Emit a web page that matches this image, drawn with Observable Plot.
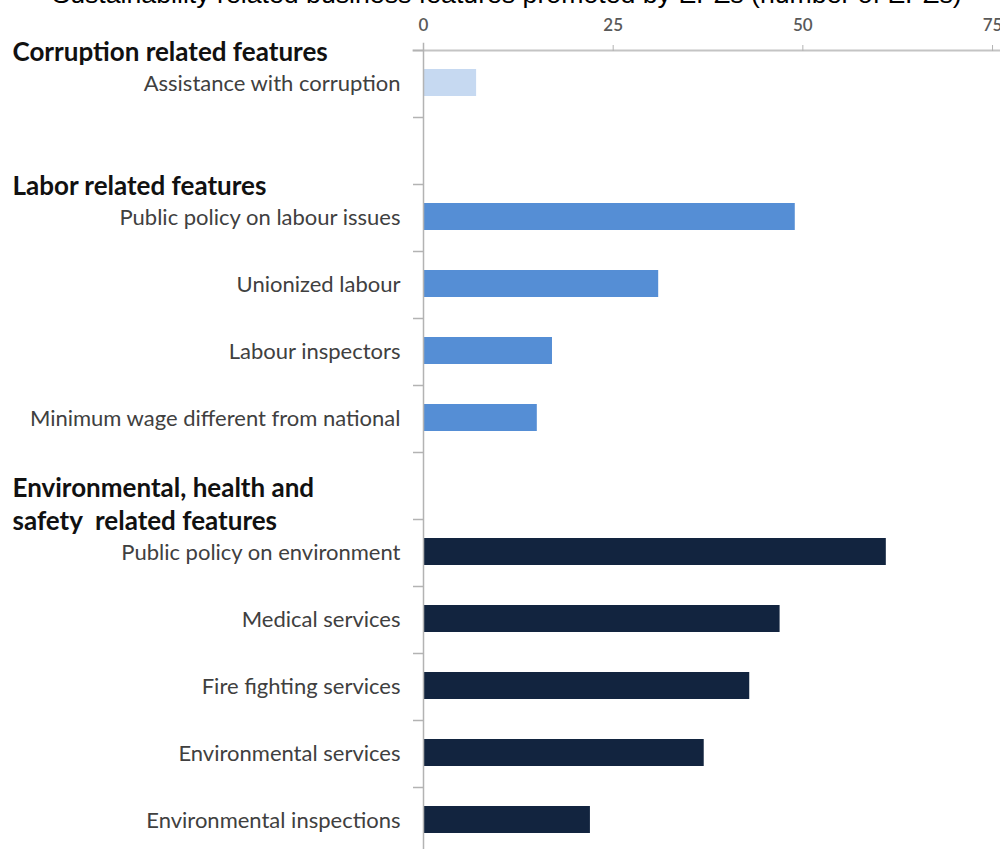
<!DOCTYPE html>
<html>
<head>
<meta charset="utf-8">
<script src="https://cdn.jsdelivr.net/npm/d3@7"></script>
<script src="https://cdn.jsdelivr.net/npm/@observablehq/plot@0.6"></script>
<style>
  html, body { margin: 0; padding: 0; background: #fff; overflow: hidden; }
  #wrap { position: relative; width: 1000px; height: 849px; overflow: hidden; }
  #title { position: absolute; left: 0; width: 1014px; top: -19px; text-align: center;
           font-family: "Liberation Sans", Arial, sans-serif; font-size: 26.7px; line-height: 27px; color: #000; white-space: nowrap; }
  #chart { position: absolute; left: 0; top: 0; }
</style>
</head>
<body>
<div id="wrap">
  <div id="chart"></div>
  <div id="title">Sustainability related business features promoted by EPZs (number of EPZs)</div>
</div>
<script>
// ---- data ----
const groupNames = ["Corruption related features", "Labor related features", "Environmental, health and\nsafety  related features"];
const groupColors = ["#c6d9f1", "#558ed5", "#12243f"];
const corruptionLabels = ["Assistance with corruption"];
const corruptionValues = [7];
const laborLabels = ["Public policy on labour issues", "Unionized labour", "Labour inspectors", "Minimum wage different from national"];
const laborValues = [49, 31, 17, 15];
const envLabels = ["Public policy on environment", "Medical services", "Fire fighting services", "Environmental services", "Environmental inspections"];
const envValues = [61, 47, 43, 37, 22];
const xTicks = [0, 25, 50, 75];
const spacers = [" ", "  "];

// ---- build table ----
const groups = [
  {name: groupNames[0], labels: corruptionLabels, values: corruptionValues},
  {name: groupNames[1], labels: laborLabels, values: laborValues},
  {name: groupNames[2], labels: envLabels, values: envValues}
];
const rows = [];
const bars = [];
groups.forEach((g, i) => {
  if (i > 0) rows.push(spacers[i - 1]);
  g.labels.forEach((l, j) => { rows.push(l); bars.push({label: l, value: g.values[j], group: g.name}); });
});
const headers = groups.map(g => ({name: g.name, row: g.labels[0]}));

const width = 1000, height = 856, marginTop = 50, marginBottom = 2, marginLeft = 423;
const step = (height - marginTop - marginBottom) / rows.length;
const axisGray = "#b3b3b3";

const chart = Plot.plot({
  width, height, marginTop, marginBottom, marginLeft, marginRight: 0,
  style: {fontFamily: "Lato, 'Open Sans', sans-serif", background: "transparent"},
  x: {domain: [0, 76.05], axis: null, label: null},
  y: {domain: rows, padding: 0, axis: null, label: null},
  color: {domain: groupNames, range: groupColors},
  marks: [
    Plot.barX(bars, {x: "value", y: "label", fill: "group", insetTop: 19, insetBottom: 21}),
    Plot.frame({anchor: "top", stroke: "#c4c4c4", strokeWidth: 2, insetLeft: -10}),
    Plot.frame({anchor: "left", stroke: axisGray, strokeWidth: 1.5, insetTop: -7}),
    Plot.axisX({anchor: "top", label: null, ticks: xTicks, tickSize: 6, tickPadding: 14, stroke: axisGray, fill: "#595959", fontSize: 17, fontWeight: 600, tickFormat: d => d}),
    Plot.axisY({anchor: "left", label: null, tickSize: 10, text: null, dy: -step / 2, stroke: axisGray, strokeWidth: 1.5}),
    Plot.axisY({anchor: "left", label: null, tickSize: 0, tickPadding: 23, fill: "#404040", fontSize: 22, tickFormat: d => d.trim()}),
    Plot.text(headers, {y: "row", text: "name", frameAnchor: "left", textAnchor: "start", lineAnchor: "bottom",
      dx: -411, dy: -step / 2 + 10.5, fontSize: 26, fontWeight: "bold", fill: "#111", lineHeight: 1.27})
  ]
});
document.getElementById("chart").append(chart);
</script>
</body>
</html>
